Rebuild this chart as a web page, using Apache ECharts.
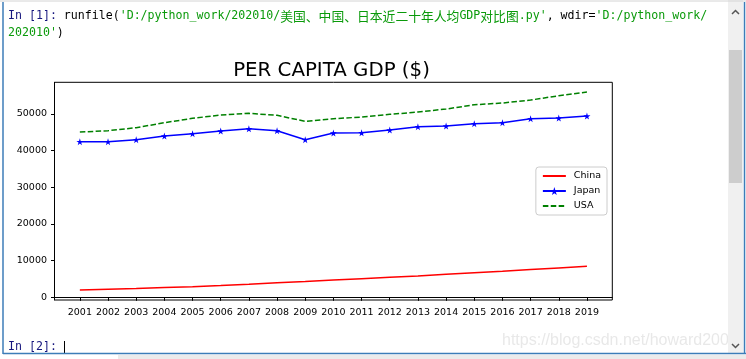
<!DOCTYPE html>
<html>
<head>
<meta charset="utf-8">
<script src="https://cdn.jsdelivr.net/npm/echarts@6/dist/echarts.min.js"></script>
<style>
html,body{margin:0;padding:0;background:#fff;}
#chart{width:746px;height:359px;}
</style>
</head>
<body>
<div id="chart"></div>
<script>
// ---- data ----
const years = [2001, 2002, 2003, 2004, 2005, 2006, 2007, 2008, 2009, 2010,
               2011, 2012, 2013, 2014, 2015, 2016, 2017, 2018, 2019];
const china = [2000, 2200, 2420, 2650, 2890, 3200, 3560, 3980, 4300, 4710,
               5080, 5450, 5800, 6250, 6700, 7100, 7550, 8000, 8450];
const japan = [42400, 42400, 42950, 43950, 44580, 45320, 45940, 45400, 42950, 44770,
               44850, 45590, 46490, 46680, 47310, 47580, 48670, 48860, 49400];
const usa   = [45040, 45400, 46220, 47580, 48780, 49680, 50140, 49600, 47960, 48670,
               49130, 49870, 50490, 51310, 52480, 52950, 53760, 54940, 55940];
const yTicks = [0, 10000, 20000, 30000, 40000, 50000];
const seriesNames = ['China', 'Japan', 'USA'];
const chartTitle = 'PER CAPITA GDP ($)';

const pair = arr => years.map((y, i) => [y, arr[i]]);
const starPath = 'path://M50,0 L61,35 L98,35 L68,57 L79,91 L50,70 L21,91 L32,57 L2,35 L39,35 Z';
const MONO = '"DejaVu Sans Mono", monospace';
const CJK = '"Noto Sans CJK SC", sans-serif';
const GREEN = '#0a9a0a';
const NAVY = '#16167e';

const chart = echarts.init(document.getElementById('chart'), null, {renderer: 'canvas'});

const consoleText = {
  type: 'text', left: 8, top: 10,
  style: {
    text: '{k|In [1]:} {b|runfile(}{g|\'D:/python_work/202010/}{c|美国、中国、日本近二十年人均}{g|GDP}{c|对比图}{g|.py\'}{b|, wdir=}{g|\'D:/python_work/}',
    rich: {
      k: {fontFamily: MONO, fontSize: 11.6, fill: NAVY, color: NAVY},
      b: {fontFamily: MONO, fontSize: 11.6, fill: '#000', color: '#000'},
      g: {fontFamily: MONO, fontSize: 11.6, fill: GREEN, color: GREEN},
      c: {fontFamily: CJK, fontSize: 12.8, fill: GREEN, color: GREEN}
    },
    font: '11.6px ' + MONO, fill: '#000'
  }
};

chart.setOption({
  animation: false,
  backgroundColor: '#ffffff',
  grid: {left: 54.5, right: 133.7, top: 82.3, bottom: 59, show: true,
         borderColor: '#000', borderWidth: 1, backgroundColor: 'transparent'},
  xAxis: {
    type: 'value', min: 2000.1, max: 2019.9,
    axisLine: {show: true, lineStyle: {color: '#000', width: 1}},
    axisTick: {show: true, length: 3.5, customValues: years, lineStyle: {color: '#000'}},
    axisLabel: {customValues: years, color: '#000', fontSize: 9.5, fontFamily: 'DejaVu Sans', margin: 8,
                formatter: v => String(Math.round(v))},
    splitLine: {show: false}
  },
  yAxis: {
    type: 'value', min: -736, max: 58600,
    axisLine: {show: true, lineStyle: {color: '#000', width: 1}},
    axisTick: {show: true, length: 3.5, customValues: yTicks, lineStyle: {color: '#000'}},
    axisLabel: {customValues: yTicks, color: '#000', fontSize: 9.5, fontFamily: 'DejaVu Sans', margin: 7.5,
                formatter: v => String(Math.round(v))},
    splitLine: {show: false}
  },
  legend: {
    data: [
      {name: seriesNames[0], itemStyle: {opacity: 0}},
      {name: seriesNames[1]},
      {name: seriesNames[2], itemStyle: {opacity: 0}}
    ],
    orient: 'vertical', right: 139, top: 167,
    padding: [4, 6, 4, 6], itemGap: 5, itemWidth: 23, itemHeight: 10,
    backgroundColor: 'rgba(255,255,255,0.8)', borderColor: '#cccccc', borderWidth: 1, borderRadius: 3,
    textStyle: {fontSize: 9.5, fontFamily: 'DejaVu Sans', color: '#000', padding: [0, 0, 0, 3], lineHeight: 10}
  },
  series: [
    {name: seriesNames[0], type: 'line', data: pair(china), symbol: 'none',
     lineStyle: {color: '#ff0000', width: 1.5}, itemStyle: {color: '#ff0000'}},
    {name: seriesNames[1], type: 'line', data: pair(japan), symbol: starPath, symbolSize: 7,
     lineStyle: {color: '#0000ff', width: 1.5}, itemStyle: {color: '#0000ff'}},
    {name: seriesNames[2], type: 'line', data: pair(usa), symbol: 'none',
     lineStyle: {color: '#008000', width: 1.5, type: [5.5, 2.4]}, itemStyle: {color: '#008000'}}
  ],
  graphic: [
    {type: 'text', x: 331.5, y: 70.5, style: {text: chartTitle, font: '19.8px "DejaVu Sans"', fill: '#000',
      textAlign: 'center', textVerticalAlign: 'middle'}},
    consoleText,
    {type: 'text', left: 8, top: 27, style: {text: '{g|202010\'}{b|)}',
      rich: {g: {fontFamily: MONO, fontSize: 11.6, fill: GREEN, color: GREEN},
             b: {fontFamily: MONO, fontSize: 11.6, fill: '#000', color: '#000'}},
      font: '11.6px ' + MONO}},
    {type: 'text', left: 8, top: 341, style: {text: 'In [2]:', font: '11.6px ' + MONO, fill: NAVY}},
    {type: 'line', shape: {x1: 64.5, y1: 341, x2: 64.5, y2: 354}, style: {stroke: '#000', lineWidth: 1}},
    {type: 'text', left: 502, top: 333, style: {text: 'https://blog.csdn.net/howard2005',
      font: '16px "Liberation Sans"', fill: 'rgba(190,190,190,0.35)'}},
    // scrollbar
    {type: 'rect', shape: {x: 728, y: 0, width: 15, height: 354}, style: {fill: '#f0f0f0'}},
    {type: 'rect', shape: {x: 729, y: 50, width: 13, height: 133}, style: {fill: '#cdcdcd'}},
    {type: 'polyline', shape: {points: [[732, 14], [735.5, 10.5], [739, 14]]}, style: {stroke: '#555', lineWidth: 1.5, fill: null}},
    {type: 'polyline', shape: {points: [[732, 344], [735.5, 347.5], [739, 344]]}, style: {stroke: '#555', lineWidth: 1.5, fill: null}},
    // frame
    {type: 'line', shape: {x1: 0, y1: 1, x2: 746, y2: 1}, style: {stroke: '#d4d4d4', lineWidth: 1}},
    {type: 'line', shape: {x1: 3, y1: 2, x2: 3, y2: 354}, style: {stroke: '#3c7db8', lineWidth: 1.5}},
    {type: 'line', shape: {x1: 744.5, y1: 2, x2: 744.5, y2: 354}, style: {stroke: '#3c7db8', lineWidth: 1.5}},
    {type: 'line', shape: {x1: 3, y1: 353.5, x2: 746, y2: 353.5}, style: {stroke: '#3c7db8', lineWidth: 1.5}},
    {type: 'rect', shape: {x: 118, y: 355, width: 628, height: 4}, style: {fill: '#ebebeb'}}
  ]
});
</script>
</body>
</html>
